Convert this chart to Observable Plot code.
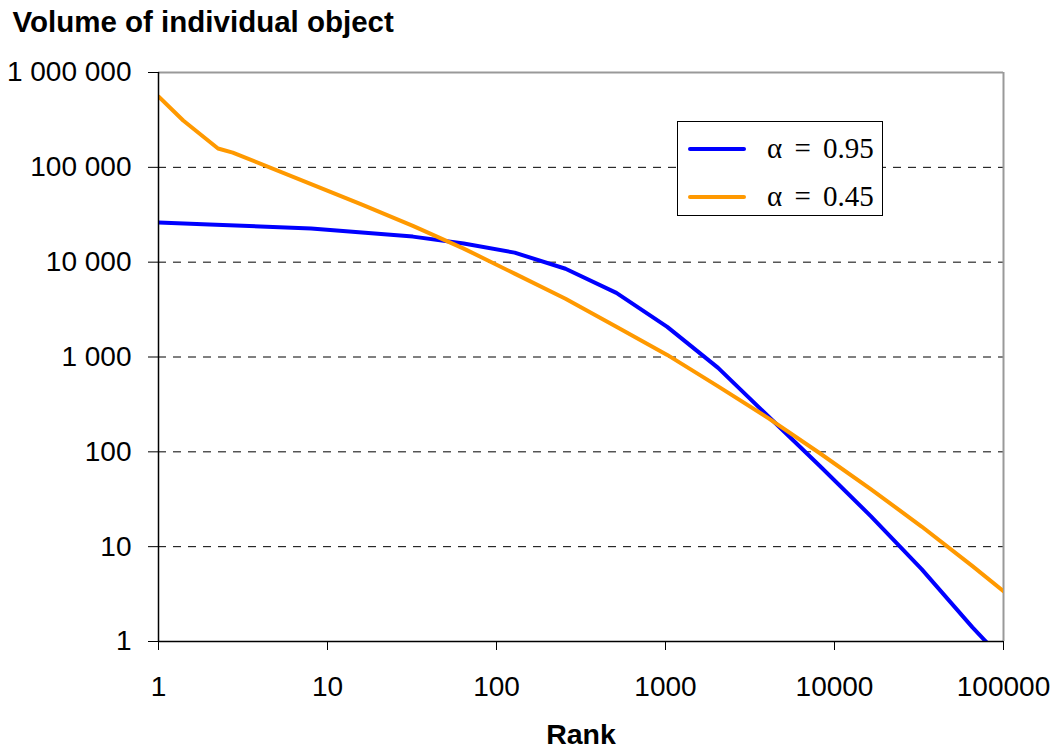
<!DOCTYPE html>
<html>
<head>
<meta charset="utf-8">
<script src="https://cdn.jsdelivr.net/npm/d3@7"></script>
<script src="https://cdn.jsdelivr.net/npm/@observablehq/plot@0.6"></script>
<style>
  html, body { margin: 0; padding: 0; background: #fff; }
  #wrap { position: relative; width: 1059px; height: 751px; font-family: "Liberation Sans", Arial, sans-serif; }
  #legend { position: absolute; left: 677px; top: 121px; width: 206px; height: 95px; border: 1px solid #000; background: #fff; box-sizing: border-box; }
  .lg-row { position: absolute; left: 0; width: 100%; height: 40px; }
  .lg-line { position: absolute; left: 10px; width: 58px; height: 4px; border-radius: 2px; }
  .lg-text { position: absolute; left: 89px; font-family: "Liberation Serif", "Times New Roman", serif; font-size: 29px; word-spacing: 5px; white-space: nowrap; line-height: 1; }
</style>
</head>
<body>
<div id="wrap"></div>
<script>
// Rank values (x) and volumes (y)
const blueRank = [1, 2, 4, 8, 16, 32, 64, 128, 256, 512, 1024, 2048, 4096, 8192, 16384, 32768, 65536, 131072];
const blueVolume = [26200, 24900, 23800, 22600, 20500, 18600, 15700, 12600, 8520, 4750, 2080, 767, 233, 71, 21, 5.8, 1.41, 0.38];

const orangeRank = [1, 1.4, 2.25, 2.75, 8, 16, 32, 64, 128, 256, 512, 1024, 2048, 4096, 8192, 16384, 32768, 65536, 100000];
const orangeVolume = [558000, 312000, 158000, 143000, 66500, 40400, 24100, 13900, 7570, 4110, 2080, 1052, 490, 224, 96.6, 40.5, 16.3, 6.24, 3.39];

const seriesNames = ["α = 0.95", "α = 0.45"];
const seriesColors = ["#0000ff", "#ff9900"];

const xTicks = [1, 10, 100, 1000, 10000, 100000];
const yTicks = [1, 10, 100, 1000, 10000, 100000, 1000000];
const gridValues = [10, 100, 1000, 10000, 100000];

const titleText = "Volume of individual object";
const xLabelText = "Rank";

const blue = blueRank.map((r, i) => ({rank: r, volume: blueVolume[i]}));
const orange = orangeRank.map((r, i) => ({rank: r, volume: orangeVolume[i]}));

const fmtY = d => d3.format(",")(d).replace(/,/g, " ");

const chart = Plot.plot({
  width: 1059,
  height: 751,
  marginLeft: 158,
  marginRight: 56,
  marginTop: 72,
  marginBottom: 110,
  style: { fontFamily: "Liberation Sans, Arial, sans-serif", color: "#000", background: "#fff" },
  x: { type: "log", domain: [1, 100000] },
  y: { type: "log", domain: [1, 1000000] },
  marks: [
    Plot.ruleY(gridValues, { stroke: "#000", strokeWidth: 1, strokeDasharray: "8,7" }),
    Plot.ruleY([1000000], { stroke: "#999", strokeWidth: 2 }),
    Plot.ruleX([100000], { stroke: "#999", strokeWidth: 2 }),
    Plot.line(blue, { x: "rank", y: "volume", stroke: seriesColors[0], strokeWidth: 4, clip: true }),
    Plot.line(orange, { x: "rank", y: "volume", stroke: seriesColors[1], strokeWidth: 4, clip: true }),
    Plot.ruleX([1], { stroke: "#000", strokeWidth: 1.5 }),
    Plot.ruleY([1], { stroke: "#000", strokeWidth: 1.5 }),
    Plot.axisX({ ticks: xTicks, tickFormat: d => String(d), tickSize: 9, tickPadding: 26, fontSize: 28, label: null, stroke: "#000" }),
    Plot.axisY({ ticks: yTicks, tickFormat: fmtY, tickSize: 10, tickPadding: 17, fontSize: 28, label: null, stroke: "#000" }),
    Plot.text([titleText], { frameAnchor: "top-left", lineAnchor: "middle", dx: -146, dy: -50, textAnchor: "start", fontSize: 29.5, fontWeight: "bold" }),
    Plot.text([xLabelText], { frameAnchor: "bottom", lineAnchor: "middle", dy: 93, fontSize: 28.5, fontWeight: "bold" })
  ]
});

const wrap = document.getElementById("wrap");
wrap.appendChild(chart);

const legend = document.createElement("div");
legend.id = "legend";
seriesNames.forEach((name, i) => {
  const row = document.createElement("div");
  row.className = "lg-row";
  row.style.top = (i === 0 ? 7 : 55) + "px";
  const ln = document.createElement("div");
  ln.className = "lg-line";
  ln.style.background = seriesColors[i];
  ln.style.top = "18px";
  const tx = document.createElement("div");
  tx.className = "lg-text";
  tx.style.top = "5px";
  tx.textContent = name;
  row.appendChild(ln);
  row.appendChild(tx);
  legend.appendChild(row);
});
wrap.appendChild(legend);
</script>
</body>
</html>
